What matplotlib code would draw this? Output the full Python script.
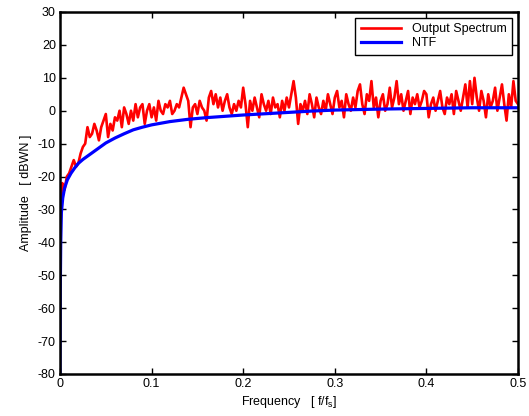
import numpy as np
import matplotlib.pyplot as plt

plt.rcParams['font.family'] = ['Liberation Sans', 'DejaVu Sans']
plt.rcParams['mathtext.fontset'] = 'custom'
plt.rcParams['mathtext.rm'] = 'Liberation Sans'
plt.rcParams['mathtext.it'] = 'Liberation Sans'
plt.rcParams['axes.unicode_minus'] = False

# output spectrum, one value every 0.0025 fs from 0 to 0.5
out_freq = np.arange(201) * 0.0025
out_db = [
    -38, -22, -24, -20, -19, -17, -15, -17, -16, -13,
    -11, -10, -5, -8, -7, -4, -6, -9, -5, -3,
    -1, -8, -4, -6, -2, -3, 0, -5, 1, -1,
    -4, 0, -3, 2, -2, 1, 2, -4, 0, 2,
    -2, 1, -3, 3, 0, -1, 2, 1, 3, -1,
    0, 2, 1, 4, 7, 5, 3, -5, 1, 2,
    -1, 3, 1, 0, -3, 4, 6, 2, 5, 1,
    4, 0, 3, 5, 1, -1, 2, 0, 3, 1,
    7, 2, -5, 3, 0, 4, 1, -2, 5, 2,
    0, 3, -1, 4, 1, 2, -2, 3, 0, 4,
    1, 5, 9, 4, -4, 2, 0, 3, -1, 5,
    2, -2, 4, 1, -1, 3, 0, 5, 2, -1,
    4, 6, 1, 3, -2, 5, 2, 0, 4, 1,
    6, 8, 2, -1, 5, 3, 9, 1, 4, -2,
    3, 5, 0, 2, 7, 1, 4, 9, 2, 5,
    0, 3, 6, -1, 4, 2, 5, 1, 3, 6,
    5, -2, 2, 4, 0, 3, 6, 1, -1, 4,
    2, 5, -1, 6, 3, 0, 4, 8, 1, 9,
    2, 10, 4, 0, 6, 3, -2, 5, 1, 3,
    7, 0, 4, 8, 2, -3, 5, 1, 9, 3,
    2,
]

# noise transfer function
ntf_freq = [0, 0.0003, 0.0008, 0.0015, 0.003, 0.005, 0.008, 0.012, 0.016, 0.02,
            0.025, 0.03, 0.035, 0.04, 0.05, 0.06, 0.07, 0.08, 0.09, 0.1,
            0.12, 0.14, 0.16, 0.18, 0.2, 0.225, 0.25, 0.275, 0.3, 0.35,
            0.4, 0.45, 0.5]
ntf_db = [-80, -55, -40, -31, -26.5, -23.5, -21, -19, -17.4, -16,
          -14.8, -13.8, -12.8, -11.8, -9.8, -8.3, -7, -5.8, -5, -4.3,
          -3.3, -2.6, -2.1, -1.7, -1.3, -0.9, -0.5, -0.1, 0.2, 0.5,
          0.7, 0.9, 0.9]

fig = plt.figure(figsize=(5.29, 4.16), dpi=100)
ax = fig.add_axes([60 / 529, 1 - 374 / 416, 458 / 529, 362 / 416])

ax.plot(out_freq, out_db, color='#ff0000', lw=1.9, label='Output Spectrum')
ax.plot(ntf_freq, ntf_db, color='#0000ff', lw=2.3, label='NTF')

ax.set_xlim(0, 0.5)
ax.set_ylim(-80, 30)
ax.set_xticks([0, 0.1, 0.2, 0.3, 0.4, 0.5])
ax.set_xticklabels(['0', '0.1', '0.2', '0.3', '0.4', '0.5'])
ax.set_yticks(range(-80, 31, 10))
ax.tick_params(direction='in', length=4, width=1, top=True, right=True,
               labelsize=9, pad=3, colors='black')
for sp in ax.spines.values():
    sp.set_linewidth(1.8)

ax.set_xlabel(r'Frequency   [ f/f$_{\mathregular{s}}$]', fontsize=9, labelpad=3)
ax.set_ylabel('Amplitude   [ dBWN ]', fontsize=9, labelpad=4)

leg = ax.legend(loc='upper right', fontsize=9, fancybox=False, framealpha=1,
                edgecolor='black', borderpad=0.45, labelspacing=0.15,
                handlelength=3.2, handletextpad=0.9, borderaxespad=0.45)
leg.get_frame().set_linewidth(1.0)

fig.savefig('out.png', dpi=100)
